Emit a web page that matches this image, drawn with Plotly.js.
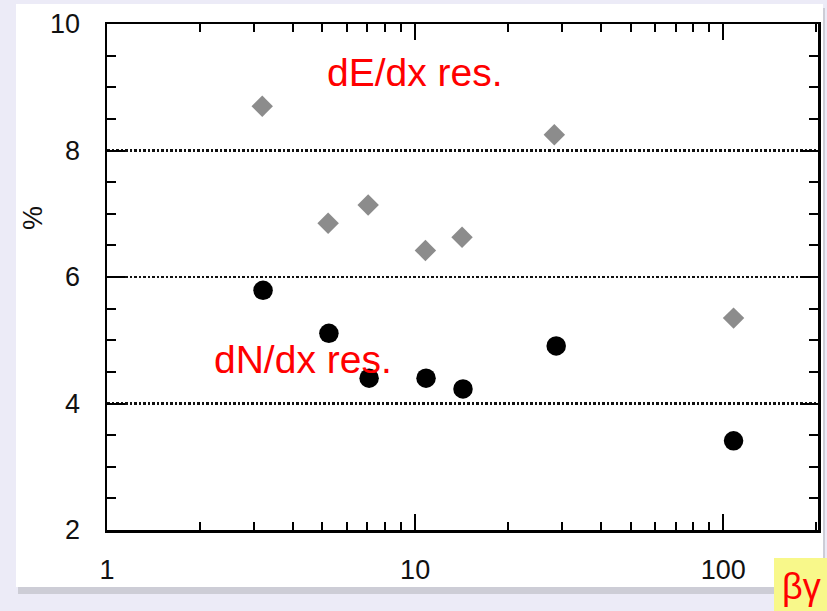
<!DOCTYPE html>
<html>
<head>
<meta charset="utf-8">
<script src="https://cdn.plot.ly/plotly-3.0.1.min.js"></script>
<style>
  html, body { margin: 0; padding: 0; background: #ecebf7; }
  #chart { width: 827px; height: 611px; }
</style>
</head>
<body>
<div id="chart"></div>
<script>
// Data
const betaGammaE = [3.19, 5.22, 7.04, 10.8, 14.2, 28.3, 108];
const dEdxRes    = [8.70, 6.85, 7.14, 6.42, 6.63, 8.25, 5.35];
const betaGammaN = [3.21, 5.25, 7.09, 10.85, 14.3, 28.7, 108];
const dNdxRes    = [5.79, 5.11, 4.40, 4.40, 4.23, 4.91, 3.41];
const xTickVals  = [1, 10, 100];
const xTickText  = ['1', '10', '100'];
const yTickVals  = [2, 4, 6, 8, 10];
const yTickText  = ['2', '4', '6', '8', '10'];

const font = 'Liberation Sans, Arial, Helvetica, sans-serif';

const traces = [
  {
    x: betaGammaE, y: dEdxRes, type: 'scatter', mode: 'markers',
    marker: { symbol: 'diamond', size: 16.5, color: '#8c8c8c' },
    hoverinfo: 'x+y', showlegend: false
  },
  {
    x: betaGammaN, y: dNdxRes, type: 'scatter', mode: 'markers',
    marker: { symbol: 'circle', size: 19.5, color: '#000000' },
    hoverinfo: 'x+y', showlegend: false
  }
];

const layout = {
  width: 827, height: 611,
  margin: { l: 107, r: 9, t: 24, b: 81 },
  paper_bgcolor: '#ecebf7',
  plot_bgcolor: '#ffffff',
  showlegend: false,
  xaxis: {
    type: 'log',
    range: [0, Math.log10(203)],
    tickvals: xTickVals, ticktext: xTickText,
    ticks: 'inside', ticklen: 16, tickwidth: 2, tickcolor: '#000',
    minor: { ticks: 'inside', ticklen: 8, tickwidth: 2, tickcolor: '#000', dtick: 'D1', showgrid: false },
    showline: true, linewidth: 2.5, linecolor: '#000', mirror: 'ticks',
    showgrid: false, zeroline: false,
    tickfont: { family: font, size: 27, color: '#111' },
    ticklabelstandoff: 14
  },
  yaxis: {
    range: [2, 10],
    tickvals: yTickVals, ticktext: yTickText,
    ticks: 'inside', ticklen: 18, tickwidth: 2, tickcolor: '#000',
    minor: { ticks: 'inside', ticklen: 9, tickwidth: 2, tickcolor: '#000', dtick: 0.5, showgrid: false },
    showline: true, linewidth: 2.5, linecolor: '#000', mirror: 'ticks',
    showgrid: true, gridcolor: '#111', gridwidth: 2.5, griddash: '2.5px,2px',
    zeroline: false,
    tickfont: { family: font, size: 27, color: '#111' },
    ticklabelstandoff: 19
  },
  shapes: [
    // drop shadow of the white card
    { type: 'rect', xref: 'paper', yref: 'paper', layer: 'below',
      x0: (18 - 107) / 711, x1: (825 - 107) / 711,
      y0: (530 - 594) / 506, y1: (530 - 8) / 506,
      fillcolor: '#b4b4bc', line: { width: 0 }, opacity: 0.55 },
    // white card
    { type: 'rect', xref: 'paper', yref: 'paper', layer: 'below',
      x0: (16 - 107) / 711, x1: (823 - 107) / 711,
      y0: (530 - 587) / 506, y1: (530 - 4) / 506,
      fillcolor: '#ffffff', line: { width: 0 } },
    // yellow label background
    { type: 'rect', xref: 'paper', yref: 'paper', layer: 'above',
      x0: (774 - 107) / 711, x1: (827 - 107) / 711,
      y0: (530 - 611) / 506, y1: (530 - 558) / 506,
      fillcolor: '#f8f88a', line: { width: 0 } }
  ],
  annotations: [
    { text: 'dE/dx res.', xref: 'paper', yref: 'paper',
      x: (415 - 107) / 711, y: (530 - 72) / 506, showarrow: false,
      xanchor: 'center', yanchor: 'middle',
      font: { family: font, size: 39, color: '#ff0000' } },
    { text: 'dN/dx res.', xref: 'paper', yref: 'paper',
      x: (303 - 107) / 711, y: (530 - 360) / 506, showarrow: false,
      xanchor: 'center', yanchor: 'middle',
      font: { family: font, size: 39, color: '#ff0000' } },
    { text: '%', xref: 'paper', yref: 'paper',
      x: (33 - 107) / 711, y: (530 - 218) / 506, showarrow: false,
      xanchor: 'center', yanchor: 'middle', textangle: -90,
      font: { family: font, size: 27, color: '#111' } },
    { text: 'βγ', xref: 'paper', yref: 'paper',
      x: (801 - 107) / 711, y: (530 - 586) / 506, showarrow: false,
      xanchor: 'center', yanchor: 'middle',
      font: { family: font, size: 36, color: '#ff0000' } }
  ]
};

Plotly.newPlot('chart', traces, layout, { staticPlot: true, displayModeBar: false });
</script>
</body>
</html>
